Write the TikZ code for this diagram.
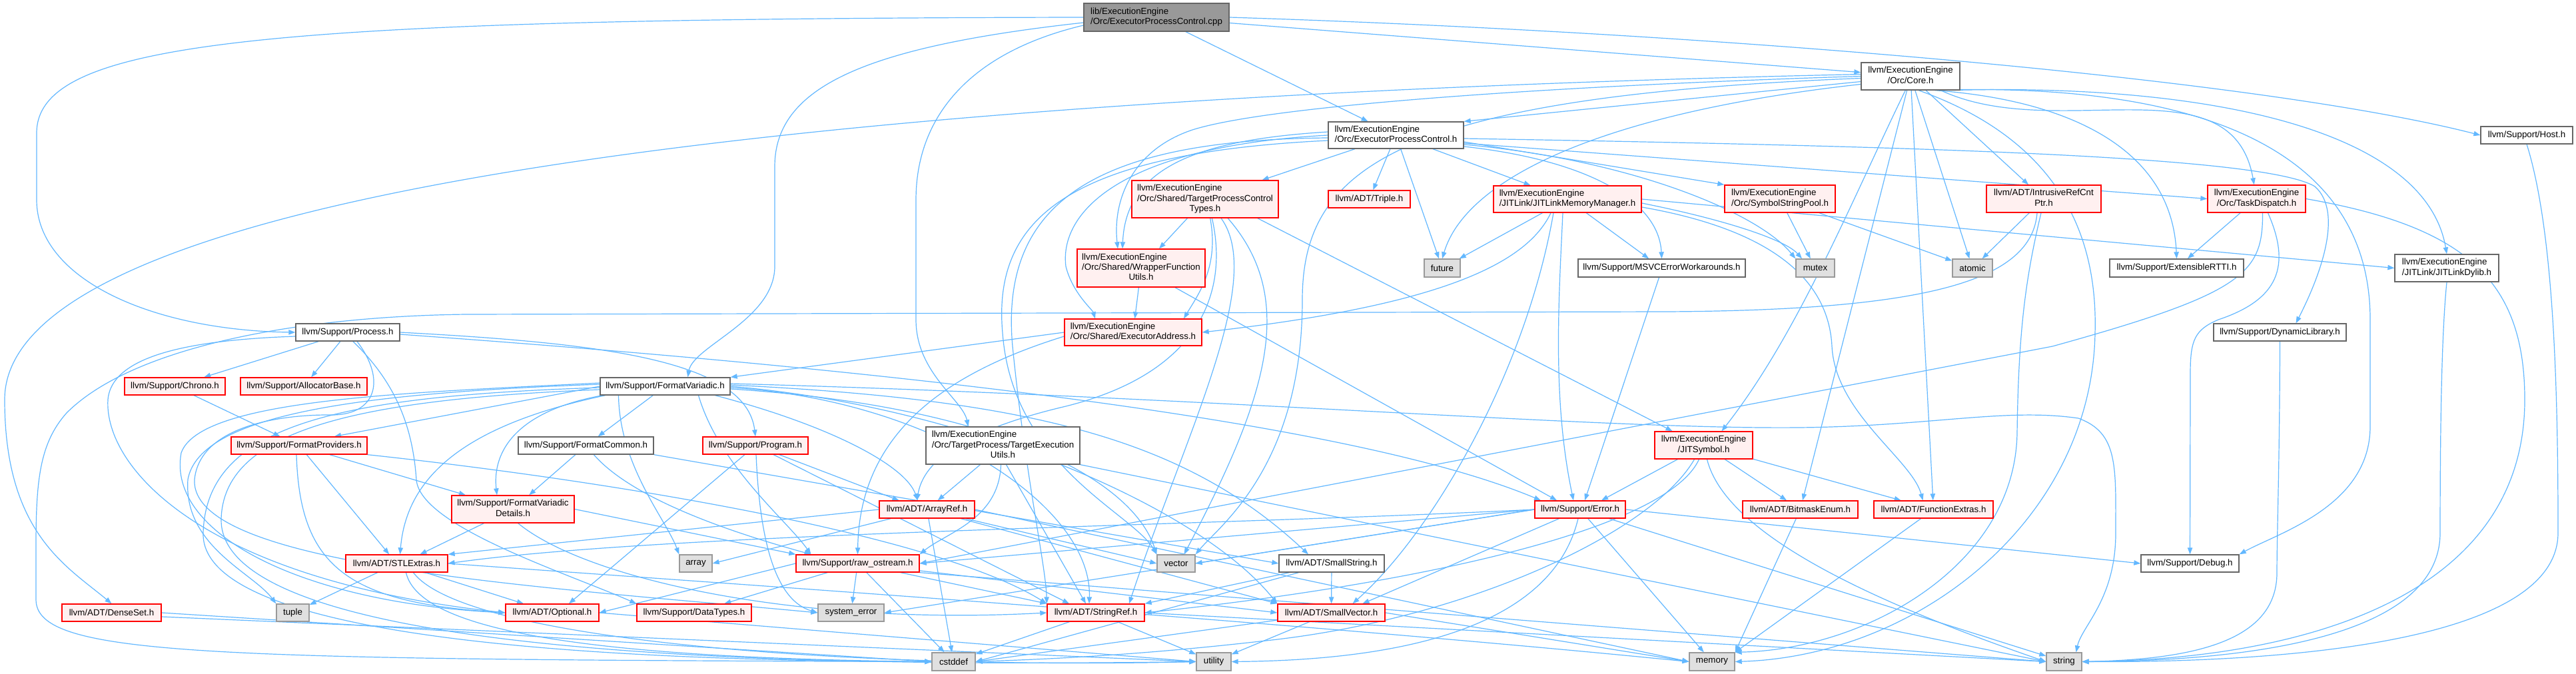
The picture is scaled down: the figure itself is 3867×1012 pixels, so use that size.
\documentclass[tikz,border=0pt]{standalone}
\usepackage{fontspec}
\setmainfont{Liberation Sans}
\usetikzlibrary{arrows.meta,calc,backgrounds}
\definecolor{edgec}{HTML}{63B8FF}
\definecolor{mygreyA}{HTML}{666666}
\definecolor{mygreyB}{HTML}{999999}
\definecolor{pinkf}{HTML}{FFF0F0}
\definecolor{sysf}{HTML}{E0E0E0}
\definecolor{redb}{HTML}{FF0000}
\newcommand{\mknode}[7]{\node[#6, minimum width={(#4-#2)*0.75pt}, minimum height={(#5-#3)*0.75pt}] (#1) at ({(#2+#4)/2},{(#3+#5)/2}) {#7};}
\newcommand{\twol}[2]{\begin{tabular}{@{}l@{}}#1\\\multicolumn{1}{@{}c@{}}{#2}\end{tabular}}
\newcommand{\threel}[3]{\begin{tabular}{@{}l@{}}#1\\#2\\\multicolumn{1}{@{}c@{}}{#3}\end{tabular}}
\begin{document}
\begin{tikzpicture}[x=0.75pt,y=-0.75pt,
  nbase/.style={rectangle, inner sep=0pt, font=\fontsize{10}{11.3}\selectfont, line width=1pt},
  rootn/.style={nbase, fill=mygreyB, draw=mygreyA},
  plain/.style={nbase, fill=white, draw=mygreyA},
  trunc/.style={nbase, fill=pinkf, draw=redb},
  sysn/.style={nbase, fill=sysf, draw=mygreyB},
  dep/.style={draw=edgec, line width=0.9pt, arrows={-Triangle[length=7.5pt,width=5.5pt]}}]
\useasboundingbox (0,0) rectangle (3867,1012);
% nodes
\mknode{root}{1627}{5}{1845}{47}{rootn}{\twol{lib/ExecutionEngine}{/Orc/ExecutorProcessControl.cpp}}
\mknode{epc}{1994}{183}{2197}{223}{plain}{\twol{llvm/ExecutionEngine}{/Orc/ExecutorProcessControl.h}}
\mknode{core}{2794}{94}{2942}{135}{plain}{\twol{llvm/ExecutionEngine}{/Orc/Core.h}}
\mknode{host}{3724}{190}{3862}{216}{plain}{llvm/Support/Host.h}
\mknode{tpct}{1699}{271}{1919}{327}{trunc}{\threel{llvm/ExecutionEngine}{/Orc/Shared/TargetProcessControl}{Types.h}}
\mknode{triple}{1994}{286}{2117}{312}{trunc}{llvm/ADT/Triple.h}
\mknode{jlmm}{2242}{279}{2464}{319}{trunc}{\twol{llvm/ExecutionEngine}{/JITLink/JITLinkMemoryManager.h}}
\mknode{ssp}{2589}{278}{2755}{319}{trunc}{\twol{llvm/ExecutionEngine}{/Orc/SymbolStringPool.h}}
\mknode{irc}{2982}{278}{3154}{319}{trunc}{\twol{llvm/ADT/IntrusiveRefCnt}{Ptr.h}}
\mknode{td}{3314}{278}{3461}{319}{trunc}{\twol{llvm/ExecutionEngine}{/Orc/TaskDispatch.h}}
\mknode{wfu}{1617}{374}{1809}{431}{trunc}{\threel{llvm/ExecutionEngine}{/Orc/Shared/WrapperFunction}{Utils.h}}
\mknode{fut}{2138}{389}{2192}{416}{sysn}{future}
\mknode{msvc}{2369}{389}{2620}{416}{plain}{llvm/Support/MSVCErrorWorkarounds.h}
\mknode{mutex}{2696}{389}{2754}{416}{sysn}{mutex}
\mknode{atomic}{2931}{389}{2991}{416}{sysn}{atomic}
\mknode{ertti}{3167}{389}{3368}{416}{plain}{llvm/Support/ExtensibleRTTI.h}
\mknode{jld}{3595}{382}{3751}{423}{plain}{\twol{llvm/ExecutionEngine}{/JITLink/JITLinkDylib.h}}
\mknode{eaddr}{1598}{479}{1804}{519}{trunc}{\twol{llvm/ExecutionEngine}{/Orc/Shared/ExecutorAddress.h}}
\mknode{proc}{444}{486}{600}{512}{plain}{llvm/Support/Process.h}
\mknode{dynlib}{3323}{486}{3522}{512}{plain}{llvm/Support/DynamicLibrary.h}
\mknode{chrono}{187}{567}{338}{593}{trunc}{llvm/Support/Chrono.h}
\mknode{alloc}{361}{567}{551}{593}{trunc}{llvm/Support/AllocatorBase.h}
\mknode{fv}{901}{567}{1096}{593}{plain}{llvm/Support/FormatVariadic.h}
\mknode{teu}{1390}{641}{1621}{697}{plain}{\threel{llvm/ExecutionEngine}{/Orc/TargetProcess/TargetExecution}{Utils.h}}
\mknode{jsym}{2484}{648}{2631}{689}{trunc}{\twol{llvm/ExecutionEngine}{/JITSymbol.h}}
\mknode{fprov}{347}{656}{551}{682}{trunc}{llvm/Support/FormatProviders.h}
\mknode{fcommon}{778}{656}{981}{682}{plain}{llvm/Support/FormatCommon.h}
\mknode{prog}{1055}{656}{1213}{682}{trunc}{llvm/Support/Program.h}
\mknode{fvd}{678}{744}{862}{785}{trunc}{\twol{llvm/Support/FormatVariadic}{Details.h}}
\mknode{aref}{1320}{752}{1463}{778}{trunc}{llvm/ADT/ArrayRef.h}
\mknode{err}{2304}{752}{2440}{778}{trunc}{llvm/Support/Error.h}
\mknode{bitmask}{2616}{752}{2789}{778}{trunc}{llvm/ADT/BitmaskEnum.h}
\mknode{fext}{2813}{752}{2992}{778}{trunc}{llvm/ADT/FunctionExtras.h}
\mknode{stl}{519}{833}{672}{859}{trunc}{llvm/ADT/STLExtras.h}
\mknode{array}{1020}{833}{1069}{859}{sysn}{array}
\mknode{raw}{1195}{833}{1380}{859}{trunc}{llvm/Support/raw\_ostream.h}
\mknode{vector}{1737}{833}{1794}{859}{sysn}{vector}
\mknode{sstr}{1920}{833}{2078}{859}{plain}{llvm/ADT/SmallString.h}
\mknode{debug}{3214}{833}{3361}{859}{plain}{llvm/Support/Debug.h}
\mknode{dset}{93}{907}{242}{933}{trunc}{llvm/ADT/DenseSet.h}
\mknode{tuple}{415}{907}{464}{933}{sysn}{tuple}
\mknode{opt}{759}{907}{899}{933}{trunc}{llvm/ADT/Optional.h}
\mknode{dtypes}{956}{907}{1128}{933}{trunc}{llvm/Support/DataTypes.h}
\mknode{syserr}{1228}{907}{1327}{933}{sysn}{system\_error}
\mknode{sref}{1572}{907}{1718}{933}{trunc}{llvm/ADT/StringRef.h}
\mknode{svec}{1918}{907}{2079}{933}{trunc}{llvm/ADT/SmallVector.h}
\mknode{cstddef}{1399}{980}{1464}{1007}{sysn}{cstddef}
\mknode{utility}{1796}{980}{1848}{1007}{sysn}{utility}
\mknode{memory}{2536}{980}{2604}{1007}{sysn}{memory}
\mknode{string}{3072}{980}{3125}{1007}{sysn}{string}
\begin{pgfonlayer}{background}
\fill[white] (0,0) rectangle (3867,1012);
% root
\draw[dep] (root) -- (epc);
\draw[dep] (root) -- (core);
\draw[dep] (root.east) .. controls (2600,50) and (3400,120) .. (host.west);
\draw[dep] (root.west) .. controls (400,28) and (55,60) .. (55,200) -- (55,300) .. controls (55,420) and (230,496) .. (proc.west);
\draw[dep] ($(root.west)+(0,8)$) .. controls (1300,70) and (1163,130) .. (1163,250) -- (1163,400) .. controls (1163,480) and (1040,520) .. ($(fv.north)+(34,0)$);
\draw[dep] ($(root.west)+(0,12)$) .. controls (1450,80) and (1375,180) .. (1375,300) -- (1375,480) .. controls (1375,560) and (1445,600) .. ($(teu.north)+(-52,0)$);
% core
\draw[dep] ($(core.west)+(0,8)$) -- (epc.north east);
\draw[dep] ($(core.west)+(0,-3)$) .. controls (1500,140) and (7,250) .. (7,600) .. controls (7,800) and (100,850) .. (dset.north);
\draw[dep] ($(core.west)+(0,0)$) .. controls (2300,130) and (1900,160) .. (1790,195) .. controls (1700,225) and (1670,300) .. ($(wfu.north)+(-35,0)$);
\draw[dep] ($(core.west)+(0,3)$) .. controls (2100,145) and (1955,250) .. (1955,450) .. controls (1955,700) and (1830,790) .. (vector.north east);
\draw[dep] ($(core.west)+(0,12)$) .. controls (2400,170) and (2200,270) .. (fut.north);
\draw[dep] (core) -- (irc);
\draw[dep] (core) -- (atomic);
\draw[dep] (core) -- (bitmask);
\draw[dep] (core) -- (fext);
\draw[dep] (core.250) .. controls (2780,300) and (2700,500) .. ($(jsym.north)+(27,0)$);
\draw[dep] (core) to[out=-25,in=100] (td);
\draw[dep] (core.-30) .. controls (3100,150) and (3260,220) .. (ertti.north);
\draw[dep] (core.-20) .. controls (3300,125) and (3640,190) .. (jld.north);
\draw[dep] (core.-15) .. controls (3350,130) and (3558,250) .. (3558,480) -- (3558,640) .. controls (3558,760) and (3420,800) .. (debug.north east);
\draw[dep] (core.-60) .. controls (3060,200) and (3150,320) .. (3145,500) .. controls (3140,780) and (2880,985) .. (memory.east);
% epc
\draw[dep] (epc) -- (tpct);
\draw[dep] (epc) -- (triple);
\draw[dep] (epc) -- (jlmm);
\draw[dep] (epc) -- (fut);
\draw[dep] ($(epc.east)+(0,17)$) .. controls (2380,240) and (2490,300) .. (msvc.north);
\draw[dep] ($(epc.east)+(0,10)$) -- (ssp.north west);
\draw[dep] ($(epc.east)+(0,12)$) -- (td.west);
\draw[dep] ($(epc.east)+(0,14)$) .. controls (2450,240) and (2640,320) .. (mutex.north west);
\draw[dep] ($(epc.east)+(0,5)$) .. controls (2900,220) and (3400,235) .. (3475,280) .. controls (3520,320) and (3480,420) .. ($(dynlib.north)+(24,0)$);
\draw[dep] ($(epc.west)+(0,-5)$) .. controls (1800,210) and (1690,250) .. ($(wfu.north)+(-28,0)$);
\draw[dep] ($(epc.west)+(0,0)$) .. controls (1680,220) and (1590,320) .. (1600,400) .. controls (1610,440) and (1640,465) .. ($(eaddr.north)+(-57,0)$);
\draw[dep] ($(epc.west)+(0,4)$) .. controls (1650,210) and (1500,300) .. (1520,520) .. controls (1540,720) and (1570,850) .. (sref.north west);
\draw[dep] ($(epc.west)+(0,8)$) .. controls (1600,230) and (1490,330) .. (1505,500) .. controls (1520,700) and (1700,770) .. (vector.north west);
% tpct
\draw[dep] (tpct) -- (wfu);
\draw[dep] (tpct.-75) .. controls (1830,400) and (1800,440) .. ($(eaddr.north)+(76,0)$);
\draw[dep] (tpct.-20) -- ($(jsym.north)+(-47,0)$);
\draw[dep] (tpct.-70) .. controls (1845,440) and (1800,560) .. (1600,610) .. controls (1430,650) and (1385,700) .. ($(aref.north)+(-15,0)$);
\draw[dep] (tpct.-50) .. controls (1900,420) and (1780,650) .. ($(sref.north)+(50,0)$);
\draw[dep] (tpct.-40) .. controls (1950,450) and (1900,600) .. ($(vector.north)+(12,0)$);
% jlmm
\draw[dep] (jlmm) -- (fut);
\draw[dep] ($(jlmm.south)+(-25,0)$) .. controls (2290,400) and (2150,460) .. (eaddr.east);
\draw[dep] ($(jlmm.south)+(-21,0)$) .. controls (2290,560) and (2150,800) .. ($(svec.north)+(32,0)$);
\draw[dep] ($(jlmm.south)+(-7,0)$) .. controls (2340,450) and (2330,600) .. ($(err.north)+(-10,0)$);
\draw[dep] (jlmm) -- (msvc);
\draw[dep] (jlmm.east) -- (jld.west);
\draw[dep] ($(jlmm.east)+(0,6)$) .. controls (2590,330) and (2680,360) .. ($(mutex.north)+(-20,0)$);
\draw[dep] ($(jlmm.east)+(0,12)$) .. controls (2660,345) and (2745,420) .. (2750,520) .. controls (2755,620) and (2870,690) .. ($(fext.north)+(-16,0)$);
% wfu, eaddr, msvc, ssp
\draw[dep] (wfu) -- (eaddr);
\draw[dep] ($(wfu.south)+(51,0)$) -- ($(err.north)+(-35,0)$);
\draw[dep] (eaddr.west) -- (fv.north east);
\draw[dep] ($(eaddr.west)+(0,6)$) .. controls (1420,560) and (1290,650) .. (raw.north);
\draw[dep] ($(msvc.south)+(-4,0)$) -- ($(err.north)+(7,0)$);
\draw[dep] (ssp) -- (mutex);
\draw[dep] (ssp) -- (atomic);
% irc
\draw[dep] (irc) -- (atomic);
\draw[dep] ($(irc.south)+(-4,0)$) .. controls (3040,420) and (3030,500) .. (3028,650) .. controls (3025,850) and (2800,975) .. (memory.north east);
\draw[dep] ($(irc.south)+(-10,0)$) .. controls (3050,420) and (2900,466) .. (2500,468) -- (700,472) .. controls (450,475) and (200,520) .. (100,620) .. controls (60,665) and (54,720) .. (54,820) -- (54,900) .. controls (54,985) and (300,990) .. (cstddef.west);
% td
\draw[dep] (td) -- (ertti);
\draw[dep] ($(td.south)+(17,0)$) .. controls (3440,400) and (3420,450) .. (3330,480) .. controls (3295,495) and (3288,510) .. (3288,560) -- (debug.north);
\draw[dep] ($(td.south)+(9,0)$) .. controls (3397,410) and (3370,440) .. (3081,520) -- (raw.east);
\draw[dep] (td.east) .. controls (3700,340) and (3790,420) .. (3790,600) .. controls (3790,900) and (3450,990) .. (string.east);
% jld, dynlib, host
\draw[dep] (jld.south) .. controls (3665,500) and (3663,650) .. (3663,800) .. controls (3663,950) and (3400,992) .. (string.east);
\draw[dep] (dynlib.south) .. controls (3422,700) and (3418,800) .. (3418,860) .. controls (3418,960) and (3300,990) .. (string.east);
\draw[dep] (host.south) .. controls (3835,350) and (3840,600) .. (3840,800) .. controls (3840,960) and (3450,995) .. (string.east);
% proc
\draw[dep] (proc) -- (chrono);
\draw[dep] (proc) -- (alloc);
\draw[dep] (proc.east) .. controls (900,515) and (1120,540) .. (prog.north);
\draw[dep] ($(proc.west)+(0,6)$) .. controls (300,510) and (168,530) .. (162,600) .. controls (156,700) and (300,870) .. (opt.west);
\draw[dep] (proc.-60) .. controls (600,580) and (620,650) .. (625,720) .. controls (630,790) and (850,860) .. (dtypes.north west);
\draw[dep] ($(proc.east)+(0,3)$) .. controls (1200,545) and (2000,620) .. ($(err.north)+(-59,0)$);
\draw[dep] ($(proc.south)+(14,0)$) .. controls (580,570) and (565,622) .. (500,623) .. controls (420,622) and (300,640) .. (292,720) .. controls (285,850) and (800,880) .. (syserr.west);
\draw[dep] (chrono) -- (fprov);
% fv
\draw[dep] (fv.west) -- ($(fprov.north)+(53,0)$);
\draw[dep] (fv) -- (fcommon);
\draw[dep] ($(fv.south)+(-94,0)$) .. controls (760,620) and (740,690) .. ($(fvd.north)+(-24,0)$);
\draw[dep] ($(fv.south)+(-90,0)$) .. controls (690,640) and (610,720) .. ($(stl.north)+(5,0)$);
\draw[dep] ($(fv.south)+(75,0)$) .. controls (1250,640) and (1360,700) .. ($(aref.north)+(-14,0)$);
\draw[dep] ($(fv.south)+(-70,0)$) .. controls (930,700) and (1000,780) .. (array.north west);
\draw[dep] ($(fv.south)+(50,0)$) .. controls (1080,700) and (1180,780) .. ($(raw.north)+(-70,0)$);
\draw[dep] ($(fv.west)+(0,-5)$) .. controls (600,590) and (300,600) .. (272,680) .. controls (250,800) and (450,905) .. (opt.west);
\draw[dep] ($(fv.west)+(0,-3)$) .. controls (550,590) and (300,620) .. (282,720) .. controls (275,820) and (380,860) .. (tuple.north west);
\draw[dep] ($(fv.west)+(0,2)$) .. controls (500,595) and (310,640) .. (305,800) .. controls (300,960) and (900,992) .. (cstddef.west);
\draw[dep] ($(fv.west)+(0,5)$) .. controls (520,600) and (335,650) .. (332,780) .. controls (330,1000) and (1300,1000) .. (utility.west);
\draw[dep] ($(fv.east)+(0,-2)$) .. controls (1550,600) and (1780,660) .. ($(sstr.north)+(-35,0)$);
\draw[dep] ($(fv.east)+(0,0)$) .. controls (1450,610) and (1800,760) .. (svec.north west);
\draw[dep] ($(fv.east)+(0,2)$) .. controls (1400,600) and (1640,760) .. ($(sref.north)+(-10,0)$);
\draw[dep] ($(fv.east)+(0,4)$) .. controls (1500,610) and (1700,720) .. (vector.north west);
\draw[dep] ($(fv.east)+(0,-4)$) .. controls (1800,595) and (2400,645) .. (2700,642) .. controls (2900,640) and (3010,612) .. (3120,628) .. controls (3180,650) and (3176,700) .. (3176,800) .. controls (3176,900) and (3125,940) .. ($(string.north)+(18,0)$);
% teu
\draw[dep] (teu) -- (aref);
\draw[dep] ($(teu.south)+(-3,0)$) .. controls (1500,780) and (1420,800) .. (raw.north east);
\draw[dep] ($(teu.south)+(5,0)$) -- ($(sref.north)+(-15,0)$);
\draw[dep] (teu.south east) -- (string.west);
% jsym
\draw[dep] (jsym) -- ($(err.north)+(32,0)$);
\draw[dep] (jsym) -- (bitmask);
\draw[dep] (jsym) -- (fext);
\draw[dep] ($(jsym.south)+(5,0)$) .. controls (2590,800) and (2800,900) .. (string.west);
\draw[dep] ($(jsym.south)+(-14,0)$) .. controls (2480,800) and (2200,930) .. (1900,962) .. controls (1700,985) and (1560,990) .. (cstddef.east);
\draw[dep] ($(jsym.south)+(-7,0)$) .. controls (2500,800) and (2100,880) .. (sref.east);
% fprov, fcommon, prog, fvd
\draw[dep] ($(fprov.south)+(-4,0)$) .. controls (450,850) and (520,905) .. (opt.west);
\draw[dep] (fprov) -- (stl);
\draw[dep] (fprov) -- (fvd);
\draw[dep] (fprov.south east) .. controls (900,720) and (1400,800) .. (sref.north west);
\draw[dep] (fcommon) -- (fvd);
\draw[dep] (fcommon) .. controls (950,750) and (1100,800) .. ($(raw.north)+(-70,0)$);
\draw[dep] (fcommon.south east) -- (sstr.west);
\draw[dep] (prog) -- ($(opt.north)+(25,0)$);
\draw[dep] ($(prog.south)+(1,0)$) .. controls (1140,800) and (1160,900) .. (syserr.west);
\draw[dep] (prog) -- ($(sref.north)+(-40,0)$);
\draw[dep] (prog) -- ($(aref.north)+(-42,0)$);
\draw[dep] (fvd) -- ($(stl.north)+(35,0)$);
\draw[dep] (fvd.east) -- (raw.north west);
\draw[dep] (fvd.-70) .. controls (880,870) and (1200,940) .. (sref.west);
% aref
\draw[dep] (aref.west) -- (stl.north east);
\draw[dep] (aref) -- (array.east);
\draw[dep] (aref) -- (cstddef);
\draw[dep] (aref) -- (vector.west);
\draw[dep] (aref.east) -- (memory.west);
\draw[dep] (aref) -- (svec.north west);
% err
\draw[dep] (err.west) .. controls (1800,790) and (1000,800) .. (stl.east);
\draw[dep] (err.west) -- (raw.east);
\draw[dep] (err.west) -- (vector.east);
\draw[dep] (err.west) -- (syserr.east);
\draw[dep] (err) -- ($(svec.north)+(47,0)$);
\draw[dep] (err) -- (memory);
\draw[dep] (err) -- (string);
\draw[dep] (err.east) -- (debug.west);
\draw[dep] ($(err.south)+(-3,0)$) .. controls (2340,900) and (2200,990) .. (utility.east);
% stl
\draw[dep] (stl) -- (tuple);
\draw[dep] (stl) -- (opt);
\draw[dep] ($(stl.south)+(14,0)$) .. controls (630,950) and (900,988) .. (cstddef.west);
\draw[dep] ($(stl.south)+(25,0)$) .. controls (700,965) and (1300,1005) .. (utility.west);
\draw[dep] (stl.east) .. controls (1000,870) and (1900,930) .. (memory.west);
% raw
\draw[dep] (raw.west) -- (opt.east);
\draw[dep] (raw) -- (dtypes);
\draw[dep] (raw) -- (syserr);
\draw[dep] (raw) -- (cstddef);
\draw[dep] (raw) -- (sref.north west);
\draw[dep] (raw) -- (svec.west);
\draw[dep] (raw.south east) -- (string.west);
% others
\draw[dep] (dset.east) -- (cstddef.west);
\draw[dep] ($(dset.east)+(0,6)$) -- (utility.west);
\draw[dep] (opt.east) -- (utility.west);
\draw[dep] (sstr) -- (sref.north east);
\draw[dep] (sstr) -- (svec);
\draw[dep] (sstr) -- (cstddef.east);
\draw[dep] (sref) -- (cstddef);
\draw[dep] (sref) -- (utility);
\draw[dep] (sref.east) -- (string.west);
\draw[dep] (svec) -- (cstddef.east);
\draw[dep] (svec) -- (utility);
\draw[dep] (svec.east) -- (memory.west);
\draw[dep] (bitmask) -- (memory.north east);
\draw[dep] (fext) -- (memory.north east);
\end{pgfonlayer}
\end{tikzpicture}
\end{document}
